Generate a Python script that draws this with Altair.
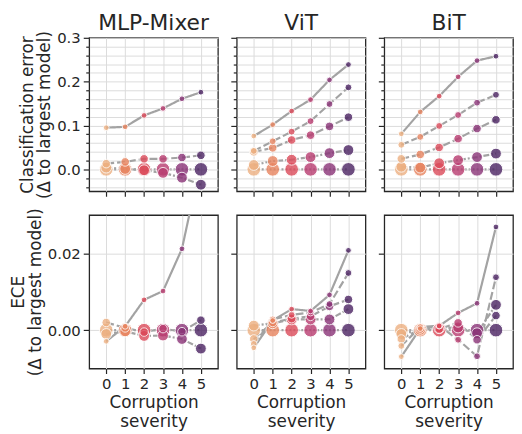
import altair as alt
import pandas as pd

severity = [0, 1, 2, 3, 4, 5]
panels = ["MLP-Mixer", "ViT", "BiT"]
severity_colors = ["#edb081", "#e8845f", "#dc4a5a", "#b93c70", "#8a3377", "#4b2362"]

err_ticks = [-0.04, -0.02, 0.0, 0.02, 0.04, 0.06, 0.08, 0.1, 0.12, 0.14, 0.16,
             0.18, 0.2, 0.22, 0.24, 0.26, 0.28, 0.3]
ece_ticks = [0.0, 0.02]

# Classification error, delta to largest model (models from smallest to largest)
mixer_err_r1 = [0.095, 0.097, 0.123, 0.139, 0.161, 0.176]
mixer_err_r3 = [0.013, 0.017, 0.024, 0.024, 0.027, 0.032]
mixer_err_r4 = [0.004, 0.001, -0.002, -0.008, -0.019, -0.035]
mixer_err_r5 = [0.0, 0.0, 0.0, 0.0, 0.0, 0.0]

vit_err_r1 = [0.076, 0.102, 0.133, 0.159, 0.204, 0.239]
vit_err_r2 = [0.042, 0.064, 0.086, 0.110, 0.149, 0.187]
vit_err_r3 = [0.040, 0.049, 0.067, 0.078, 0.098, 0.119]
vit_err_r4 = [0.010, 0.019, 0.022, 0.028, 0.037, 0.044]
vit_err_r5 = [0.0, 0.0, 0.0, 0.0, 0.0, 0.0]

bit_err_r1 = [0.081, 0.131, 0.167, 0.211, 0.248, 0.258]
bit_err_r2 = [0.056, 0.074, 0.099, 0.124, 0.152, 0.170]
bit_err_r3 = [0.024, 0.034, 0.050, 0.070, 0.093, 0.113]
bit_err_r4 = [0.006, 0.004, 0.014, 0.021, 0.028, 0.036]
bit_err_r5 = [0.0, 0.0, 0.0, 0.0, 0.0, 0.0]

# ECE, delta to largest model
mixer_ece_r1 = [-0.0029, 0.0010, 0.0079, 0.0102, 0.0212, 0.0440]
mixer_ece_r3 = [0.0020, 0.0006, -0.0005, 0.0004, -0.0004, 0.0026]
mixer_ece_r4 = [-0.0010, -0.0003, -0.0015, -0.0014, -0.0023, -0.0048]
mixer_ece_r5 = [0.0, 0.0, 0.0, 0.0, 0.0, 0.0]

vit_ece_r1 = [-0.0046, 0.0025, 0.0055, 0.0050, 0.0092, 0.0208]
vit_ece_r2 = [-0.0036, 0.0028, 0.0040, 0.0046, 0.0068, 0.0149]
vit_ece_r3 = [-0.0023, 0.0020, 0.0030, 0.0036, 0.0062, 0.0080]
vit_ece_r4 = [0.0012, 0.0018, 0.0028, 0.0028, 0.0028, 0.0055]
vit_ece_r5 = [0.0, 0.0, 0.0, 0.0, 0.0, 0.0]

bit_ece_r1 = [-0.0069, 0.0004, 0.0011, 0.0045, 0.0070, 0.0269]
bit_ece_r2 = [-0.0041, 0.0008, 0.0012, -0.0025, -0.0068, 0.0138]
bit_ece_r3 = [-0.0023, 0.0003, 0.0003, 0.0019, -0.0025, 0.0038]
bit_ece_r4 = [-0.0010, 0.0001, 0.0005, 0.0007, -0.0008, 0.0066]
bit_ece_r5 = [0.0, 0.0, 0.0, 0.0, 0.0, 0.0]

ranks = ["1", "2", "3", "4", "5"]
rank_sizes = [34, 48, 75, 120, 190]
rank_dashes = [[1, 0], [8, 3], [8, 3], [6, 2, 2, 2], [2, 2]]

INK = "#262626"
FONT = "DejaVu Sans"


def frame(series):
    rows = []
    # largest model first so smaller markers are drawn on top
    for rank, vals in sorted(series.items(), key=lambda kv: kv[0], reverse=True):
        for s, v in zip(severity, vals):
            rows.append({"severity": s, "rank": rank, "value": v})
    return pd.DataFrame(rows)


def panel(series, top, col):
    df = frame(series)
    if top:
        ydom = [-0.05, 0.3]
        major = "abs(datum.value * 10 - round(datum.value * 10)) < 0.000001"
        yaxis = alt.Axis(
            values=err_ticks,
            labels=(col == 0),
            labelExpr="(" + major + ") ? format(datum.value, '.1f') : ''",
            tickSize={"condition": {"test": major, "value": 6}, "value": 3.5},
            title=["Classification error", "(\u0394 to largest model)"] if col == 0 else None,
        )
        xaxis = alt.Axis(values=severity, labels=False, title=None, tickSize=5)
    else:
        ydom = [-0.01, 0.03]
        yaxis = alt.Axis(
            values=ece_ticks,
            labels=(col == 0),
            format=".2f",
            tickSize=6,
            title=["ECE", "(\u0394 to largest model)"] if col == 0 else None,
        )
        xaxis = alt.Axis(values=severity, labels=True, format="d", tickSize=5,
                         title=["Corruption", "severity"], titlePadding=3, titleLineHeight=20)
    x = alt.X("severity:Q", scale=alt.Scale(domain=[-0.9, 5.9], nice=False, zero=False), axis=xaxis)
    y = alt.Y("value:Q", scale=alt.Scale(domain=ydom, nice=False, zero=False), axis=yaxis)
    base = alt.Chart(df)
    lines = base.mark_line(color="#a3a3a3", strokeWidth=2.2, clip=True).encode(
        x=x, y=y,
        detail="rank:N",
        strokeDash=alt.StrokeDash("rank:N", scale=alt.Scale(domain=ranks, range=rank_dashes), legend=None),
    )
    pts = base.mark_circle(opacity=0.8, stroke="white", strokeWidth=1, clip=True).encode(
        x=x, y=y,
        color=alt.Color("severity:O", scale=alt.Scale(domain=severity, range=severity_colors), legend=None),
        size=alt.Size("rank:O", scale=alt.Scale(type="ordinal", domain=ranks, range=rank_sizes), legend=None),
    )
    ch = alt.layer(lines, pts).properties(width=130, height=155)
    if top:
        ch = ch.properties(title=alt.TitleParams(panels[col], fontSize=22, font=FONT, fontWeight="normal",
                                                 color=INK, offset=-4 if col == 0 else 2, frame="group"))
    return ch


charts = [
    panel({"1": mixer_err_r1, "3": mixer_err_r3, "4": mixer_err_r4, "5": mixer_err_r5}, True, 0),
    panel({"1": vit_err_r1, "2": vit_err_r2, "3": vit_err_r3, "4": vit_err_r4, "5": vit_err_r5}, True, 1),
    panel({"1": bit_err_r1, "2": bit_err_r2, "3": bit_err_r3, "4": bit_err_r4, "5": bit_err_r5}, True, 2),
    panel({"1": mixer_ece_r1, "3": mixer_ece_r3, "4": mixer_ece_r4, "5": mixer_ece_r5}, False, 0),
    panel({"1": vit_ece_r1, "2": vit_ece_r2, "3": vit_ece_r3, "4": vit_ece_r4, "5": vit_ece_r5}, False, 1),
    panel({"1": bit_ece_r1, "2": bit_ece_r2, "3": bit_ece_r3, "4": bit_ece_r4, "5": bit_ece_r5}, False, 2),
]

chart = alt.concat(*charts, columns=3, spacing={"row": 24, "column": 19}, bounds="flush").properties(
    padding={"left": 0, "top": 0, "right": 0, "bottom": 0}
).configure_axis(
    labelFont=FONT, labelFontSize=15, labelColor=INK, labelPadding=3,
    titleFont=FONT, titleFontSize=17, titleColor=INK, titleFontWeight="normal",
    titleLineHeight=17, titlePadding=3,
    tickColor=INK, tickWidth=1.2, domain=False,
    gridColor="#dcdcdc", gridWidth=1,
).configure_view(stroke=INK, strokeWidth=1.3).configure_title(anchor="middle")

chart.save("out.html", embed_options={"renderer": "svg", "actions": False})
